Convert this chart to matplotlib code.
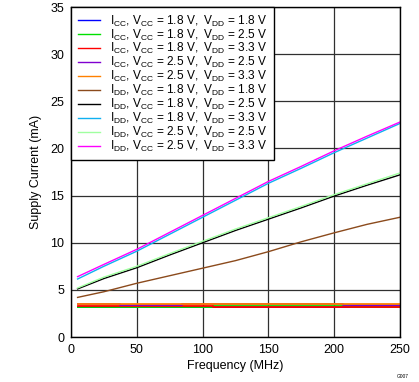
import matplotlib
matplotlib.use("Agg")
import matplotlib.pyplot as plt
import numpy as np

plt.rcParams['font.family'] = ['Liberation Sans', 'DejaVu Sans']
plt.rcParams['mathtext.fontset'] = 'custom'
plt.rcParams['mathtext.rm'] = 'Liberation Sans'

# IDD series (mA) vs frequency (MHz)
freq = [5, 25, 50, 75, 100, 125, 150, 175, 200, 225, 250]
idd_18_18 = [4.2, 4.8, 5.7, 6.5, 7.3, 8.1, 9.05, 10.1, 11.05, 11.95, 12.7]
idd_18_25 = [5.1, 6.2, 7.35, 8.7, 10.0, 11.3, 12.5, 13.7, 14.95, 16.1, 17.2]
idd_18_33 = [6.15, 7.5, 9.1, 10.9, 12.7, 14.5, 16.3, 17.9, 19.55, 21.1, 22.65]
idd_25_25 = [5.2, 6.35, 7.5, 8.85, 10.15, 11.45, 12.65, 13.85, 15.1, 16.25, 17.4]
idd_25_33 = [6.4, 7.7, 9.3, 11.1, 12.9, 14.7, 16.5, 18.1, 19.75, 21.3, 22.8]

# ICC series (mA), step levels at these frequencies
freq_icc = [5, 37, 84, 108, 207, 212, 250]
icc_18_18 = [3.20, 3.20, 3.20, 3.20, 3.20, 3.24, 3.24]
icc_18_25 = [3.20, 3.20, 3.20, 3.24, 3.24, 3.18, 3.18]
icc_18_33 = [3.24, 3.24, 3.24, 3.18, 3.18, 3.18, 3.18]
icc_25_25 = [3.45, 3.37, 3.45, 3.45, 3.40, 3.40, 3.40]
icc_25_33 = [3.48, 3.48, 3.48, 3.48, 3.55, 3.55, 3.55]

labels = [
    r'I$_\mathregular{CC}$, V$_\mathregular{CC}$ = 1.8 V,  V$_\mathregular{DD}$ = 1.8 V',
    r'I$_\mathregular{CC}$, V$_\mathregular{CC}$ = 1.8 V,  V$_\mathregular{DD}$ = 2.5 V',
    r'I$_\mathregular{CC}$, V$_\mathregular{CC}$ = 1.8 V,  V$_\mathregular{DD}$ = 3.3 V',
    r'I$_\mathregular{CC}$, V$_\mathregular{CC}$ = 2.5 V,  V$_\mathregular{DD}$ = 2.5 V',
    r'I$_\mathregular{CC}$, V$_\mathregular{CC}$ = 2.5 V,  V$_\mathregular{DD}$ = 3.3 V',
    r'I$_\mathregular{DD}$, V$_\mathregular{CC}$ = 1.8 V,  V$_\mathregular{DD}$ = 1.8 V',
    r'I$_\mathregular{DD}$, V$_\mathregular{CC}$ = 1.8 V,  V$_\mathregular{DD}$ = 2.5 V',
    r'I$_\mathregular{DD}$, V$_\mathregular{CC}$ = 1.8 V,  V$_\mathregular{DD}$ = 3.3 V',
    r'I$_\mathregular{DD}$, V$_\mathregular{CC}$ = 2.5 V,  V$_\mathregular{DD}$ = 2.5 V',
    r'I$_\mathregular{DD}$, V$_\mathregular{CC}$ = 2.5 V,  V$_\mathregular{DD}$ = 3.3 V',
]
colors = ['#0000ff', '#00e000', '#ff0000', '#8000d0', '#ff8000',
          '#8b4a1c', '#000000', '#10b0f0', '#a0ffa0', '#ff00ff']

fig = plt.figure(figsize=(4.19, 3.82), dpi=100)
ax = fig.add_axes([71/419, 1 - 337/382, (400-71)/419, (337-7)/382])

icc = [icc_18_18, icc_18_25, icc_18_33, icc_25_25, icc_25_33]
idd = [idd_18_18, idd_18_25, idd_18_33, idd_25_25, idd_25_33]
for i, s in enumerate(icc):
    ax.plot(freq_icc, s, color=colors[i], lw=1.3, drawstyle='steps-post', label=labels[i])
for i, s in enumerate(idd):
    ax.plot(freq, s, color=colors[5 + i], lw=1.0, label=labels[5 + i])

ax.set_xlim(0, 250)
ax.set_ylim(0, 35)
ax.set_xticks(np.arange(0, 251, 50))
ax.set_yticks(np.arange(0, 36, 5))
ax.grid(True, color='#303030', lw=0.9)
ax.set_axisbelow(True)
ax.tick_params(length=0, labelsize=9, pad=5)
for sp in ax.spines.values():
    sp.set_color('black')
    sp.set_linewidth(1.0)
ax.set_xlabel('Frequency (MHz)', fontsize=9, labelpad=3)
ax.set_ylabel('Supply Current (mA)', fontsize=9, labelpad=6)

leg = ax.legend(loc='upper left', bbox_to_anchor=(0, 1), borderaxespad=0,
                fontsize=8.6, frameon=True, fancybox=False, framealpha=1,
                edgecolor='black', handlelength=1.85, handletextpad=0.85,
                labelspacing=-0.1, borderpad=0.55)
leg.get_frame().set_linewidth(1.0)
for l in leg.get_lines():
    l.set_linewidth(1.0)

fig.text(403/419, 1 - 377/382, 'G007', fontsize=3.5, ha='center', va='center')

fig.savefig('out.png', dpi=100)
